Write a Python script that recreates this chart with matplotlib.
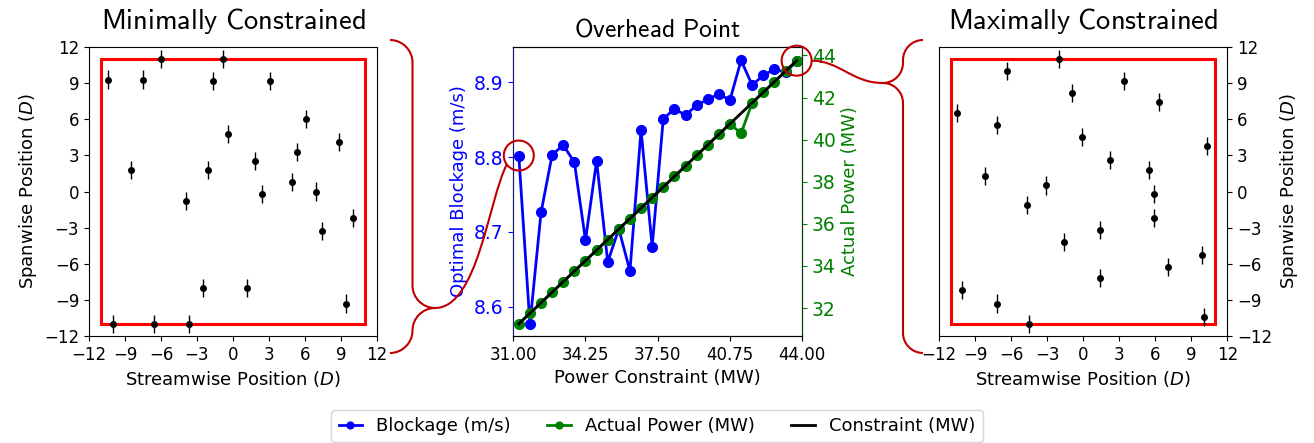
import matplotlib
matplotlib.use('Agg')
import matplotlib.pyplot as plt
from matplotlib.patches import Rectangle, Circle, PathPatch
from matplotlib.path import Path

# turbine layouts in rotor diameters (streamwise, spanwise)
min_x = [-10.4, -7.5, -6.0, -0.8, -1.7, 3.1, 6.1, -0.4, 8.8, 5.3, -8.5, -2.1, 1.8,
         4.9, 2.4, 6.9, -3.9, 10.0, 7.4, -2.5, 1.2, 9.4, -10.0, -6.6, -3.7]
min_y = [9.3, 9.3, 11.0, 11.0, 9.2, 9.2, 6.0, 4.8, 4.1, 3.3, 1.8, 1.8, 2.5,
         0.8, -0.2, 0.0, -0.8, -2.2, -3.3, -8.0, -8.0, -9.3, -11.0, -11.0, -11.0]
max_x = [-10.5, -6.3, -2.0, -0.9, 3.4, 6.3, -7.2, -0.1, 10.3, 2.2, 5.5, -8.2, -3.1,
         5.9, -4.7, 5.9, 1.4, -1.6, 9.9, 7.1, -10.1, -7.2, 1.4, -4.5, 10.1]
max_y = [6.5, 10.0, 11.0, 8.2, 9.2, 7.4, 5.5, 4.5, 3.8, 2.6, 1.8, 1.3, 0.5,
         -0.2, -1.1, -2.2, -3.2, -4.2, -5.3, -6.3, -8.2, -9.3, -7.2, -11.0, -10.4]
pos_err = 0.75
bound = 11
lim_ticks = [-12, -9, -6, -3, 0, 3, 6, 9, 12]

# overhead point sweep
power_constraint = [31.25, 31.75, 32.25, 32.75, 33.25, 33.75, 34.25, 34.75, 35.25,
                    35.75, 36.25, 36.75, 37.25, 37.75, 38.25, 38.75, 39.25, 39.75,
                    40.25, 40.75, 41.25, 41.75, 42.25, 42.75, 43.25, 43.75]
blockage = [8.802, 8.577, 8.726, 8.803, 8.816, 8.793, 8.689, 8.795, 8.660,
            8.704, 8.648, 8.836, 8.680, 8.851, 8.864, 8.856, 8.869, 8.877,
            8.884, 8.876, 8.929, 8.896, 8.909, 8.917, 8.913, 8.928]
actual_power = [31.25, 31.75, 32.25, 32.75, 33.25, 33.75, 34.25, 34.75, 35.25,
                35.75, 36.25, 36.75, 37.25, 37.75, 38.25, 38.75, 39.25, 39.75,
                40.25, 40.75, 40.30, 41.75, 42.25, 42.75, 43.25, 43.75]
power_ticks = [31.0, 34.25, 37.5, 40.75, 44.0]

W, H = 1314, 443
fig = plt.figure(figsize=(W / 100, H / 100), dpi=100)
ax_min = fig.add_axes([0.0677, 0.2415, 0.2192, 0.6524])
ax_mid = fig.add_axes([0.3906, 0.2415, 0.2199, 0.6524])
ax_max = fig.add_axes([0.7146, 0.2415, 0.2194, 0.6524])

# layout panels
for ax, xs, ys in [(ax_min, min_x, min_y), (ax_max, max_x, max_y)]:
    ax.add_patch(Rectangle((-bound, -bound), 2 * bound, 2 * bound,
                           fill=False, ec='red', lw=2.2))
    ax.errorbar(xs, ys, yerr=pos_err, fmt='o', color='k', ms=4,
                elinewidth=1, capsize=0)
    ax.set_xlim(-12, 12)
    ax.set_ylim(-12, 12)
    ax.set_xticks(lim_ticks)
    ax.set_yticks(lim_ticks)
    ax.tick_params(labelsize=12)
    ax.set_xlabel('Streamwise Position ($D$)', fontsize=13)
    ax.set_ylabel('Spanwise Position ($D$)', fontsize=13)
ax_max.yaxis.tick_right()
ax_max.yaxis.set_label_position('right')

# overhead point panel
l1, = ax_mid.plot(power_constraint, blockage, '-o', color='blue', lw=2, ms=7,
                  label='Blockage (m/s)')
ax_mid.set_xlim(31, 44)
ax_mid.set_ylim(8.5612, 8.9468)
ax_mid.set_xticks(power_ticks)
ax_mid.set_xticklabels(['%.2f' % t for t in power_ticks])
ax_mid.set_yticks([8.6, 8.7, 8.8, 8.9])
ax_mid.tick_params(axis='x', labelsize=12)
ax_mid.tick_params(axis='y', labelsize=13.5, colors='blue')
ax_mid.set_xlabel('Power Constraint (MW)', fontsize=13)
ax_mid.set_ylabel('Optimal Blockage (m/s)', fontsize=13, color='blue')

ax2 = ax_mid.twinx()
l2, = ax2.plot(power_constraint, actual_power, '-o', color='green', lw=2, ms=7,
               label='Actual Power (MW)')
l3, = ax2.plot(power_constraint, power_constraint, '-', color='black', lw=2,
               label='Constraint (MW)')
ax2.set_ylim(30.67, 44.4)
ax2.set_yticks([32, 34, 36, 38, 40, 42, 44])
ax2.tick_params(axis='y', labelsize=13.5, colors='green')
ax2.set_ylabel('Actual Power (MW)', fontsize=13, color='green')
ax2.spines['left'].set_color('#1a1a80')
ax2.spines['right'].set_color('#0b3a0b')

# titles
for ax, title, yb, fs in [(ax_min, 'Minimally\\ Constrained', 0.934, 20.5),
                          (ax_mid, 'Overhead\\ Point', 0.917, 18.4),
                          (ax_max, 'Maximally\\ Constrained', 0.934, 20.5)]:
    pos = ax.get_position()
    fig.text(pos.x0 + pos.width / 2, yb, '$\\mathsf{' + title + '}$',
             ha='center', va='baseline', fontsize=fs, math_fontfamily='cm')

fig.legend(handles=[l1, l2, l3], loc='upper center', bbox_to_anchor=(0.5, 0.0745),
           borderaxespad=0, ncol=3, fontsize=13, handlelength=1.3, markerscale=0.7)

# connectors from highlighted points to layout panels (pixel overlay, y down)
over = fig.add_axes([0, 0, 1, 1], zorder=10)
over.set_xlim(0, W)
over.set_ylim(H, 0)
over.axis('off')
over.patch.set_alpha(0)
dark_red = '#c00000'


def to_px(ax, x, y):
    dx, dy = ax.transData.transform((x, y))
    return dx, H - dy


def brace(x_end, x_tip, y_top, y_bot, y_tip, r):
    s = 1 if x_tip > x_end else -1
    xm = x_tip - s * r
    k = 0.55 * r
    verts = [(x_end, y_top),
             (x_end + s * k, y_top), (xm, y_top + r - k), (xm, y_top + r),
             (xm, y_tip - r),
             (xm, y_tip - r + k), (x_tip - s * k, y_tip), (x_tip, y_tip),
             (x_tip - s * k, y_tip), (xm, y_tip + r - k), (xm, y_tip + r),
             (xm, y_bot - r),
             (xm, y_bot - r + k), (x_end + s * k, y_bot), (x_end, y_bot)]
    codes = ([Path.MOVETO] + [Path.CURVE4] * 3 + [Path.LINETO] + [Path.CURVE4] * 6
             + [Path.LINETO] + [Path.CURVE4] * 3)
    return Path(verts, codes)


c_lo = to_px(ax_mid, power_constraint[0], blockage[0])
c_hi = to_px(ax2, power_constraint[-1], actual_power[-1])
for c in [c_lo, c_hi]:
    over.add_patch(Circle(c, 15, fill=False, ec=dark_red, lw=1.5))

over.add_patch(PathPatch(brace(390, 435, 40, 353, 308, 22.5), fill=False,
                         ec=dark_red, lw=1.5))
over.add_patch(PathPatch(brace(923, 883, 40, 353, 83, 20), fill=False,
                         ec=dark_red, lw=1.5))

end_lo = (c_lo[0] - 12, c_lo[1] + 9)
over.add_patch(PathPatch(Path([(435, 308), (478, 308), (end_lo[0] - 18, end_lo[1] + 34), end_lo],
                              [Path.MOVETO] + [Path.CURVE4] * 3),
                         fill=False, ec=dark_red, lw=1.5))
start_hi = (c_hi[0] + 15, c_hi[1])
over.add_patch(PathPatch(Path([start_hi, (start_hi[0] + 28, start_hi[1]), (852, 83), (883, 83)],
                              [Path.MOVETO] + [Path.CURVE4] * 3),
                         fill=False, ec=dark_red, lw=1.5))

fig.savefig('out.png', dpi=100)
